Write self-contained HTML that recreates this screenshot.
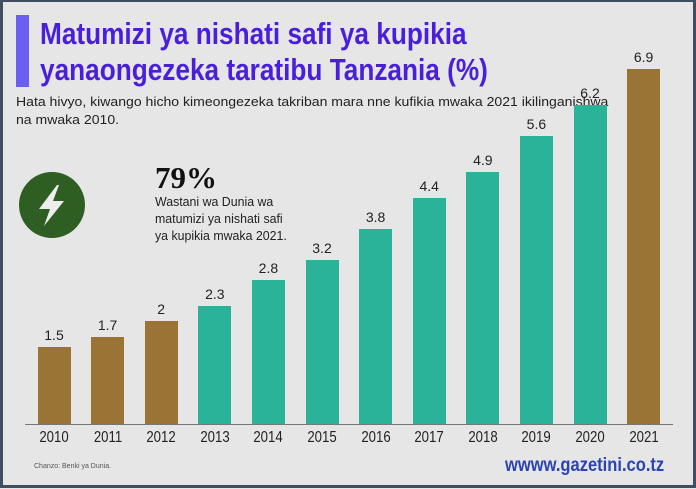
<!DOCTYPE html>
<html><head><style>
body{margin:0;width:696px;height:489px;overflow:hidden;background:#e6e6e6;font-family:"Liberation Sans",sans-serif;}
.frame{position:absolute;left:0;top:0;width:690px;height:483px;border:3px solid #3d4f60;border-top-width:2px;}
.t{position:absolute;left:40px;color:#4a1fdc;font-weight:bold;font-size:31px;line-height:34px;white-space:nowrap;transform:scaleX(0.845);transform-origin:0 0}
.acc{position:absolute;left:16px;top:15px;width:13px;height:72px;background:#6a5ff0}
.sub{position:absolute;left:16px;top:93px;font-size:13px;line-height:18px;color:#222;width:760px;transform:scaleX(1.08);transform-origin:0 0;white-space:nowrap}
.big{position:absolute;left:155px;top:160px;font-family:"Liberation Serif",serif;font-weight:bold;font-size:31px;color:#111}
.desc{position:absolute;left:155px;top:193px;font-size:13px;line-height:17px;color:#222;transform:scaleX(0.95);transform-origin:0 0;white-space:nowrap}
.v{position:absolute;font-size:14px;color:#222;text-align:center;width:50px}
.y{position:absolute;top:429px;font-size:15.5px;color:#222;text-align:center;width:50px;transform:scaleX(0.85)}
.b{position:absolute;width:33px}
</style></head><body>
<div class="frame"></div>
<div class="acc"></div>
<div class="t" style="top:17px">Matumizi ya nishati safi ya kupikia</div>
<div class="t" style="top:53px">yanaongezeka taratibu Tanzania (%)</div>
<div class="sub">Hata hivyo, kiwango hicho kimeongezeka takriban mara nne kufikia mwaka 2021 ikilinganishwa<br>na mwaka 2010.</div>
<svg style="position:absolute;left:19px;top:172px" width="66" height="66"><circle cx="33" cy="33" r="33" fill="#2e5e22"/><polygon points="38,13 20,37 31,37 25,54 45,29 34,29 40,13" fill="#eee"/></svg>
<div class="big">79%</div>
<div class="desc">Wastani wa Dunia wa<br>matumizi ya nishati safi<br>ya kupikia mwaka 2021.</div>
<div style="position:absolute;left:25px;top:424px;width:648px;height:1px;background:#777"></div>
<div id="c"></div>
<div style="position:absolute;left:34px;top:463px;font-size:7px;color:#555">Chanzo: Benki ya Dunia.</div>
<div style="position:absolute;left:505px;top:455px;font-size:19px;font-weight:bold;color:#2a44b0;transform:scaleX(0.87);transform-origin:0 0;white-space:nowrap">wwww.gazetini.co.tz</div>
<script>
var vals=[1.5,1.7,2,2.3,2.8,3.2,3.8,4.4,4.9,5.6,6.2,6.9],h='';
for(var i=0;i<12;i++){var x=37.5+i*53.6,ht=vals[i]*51.4,tp=424-ht,col=(i<3||i==11)?'#9a7434':'#2bb39a';
h+='<div class="b" style="left:'+x+'px;top:'+tp+'px;height:'+ht+'px;background:'+col+'"></div>';
h+='<div class="v" style="left:'+(x-8.5)+'px;top:'+(tp-20)+'px">'+vals[i]+'</div>';
h+='<div class="y" style="left:'+(x-8.5)+'px">'+(2010+i)+'</div>';}
document.getElementById('c').innerHTML=h;
</script>
</body></html>
